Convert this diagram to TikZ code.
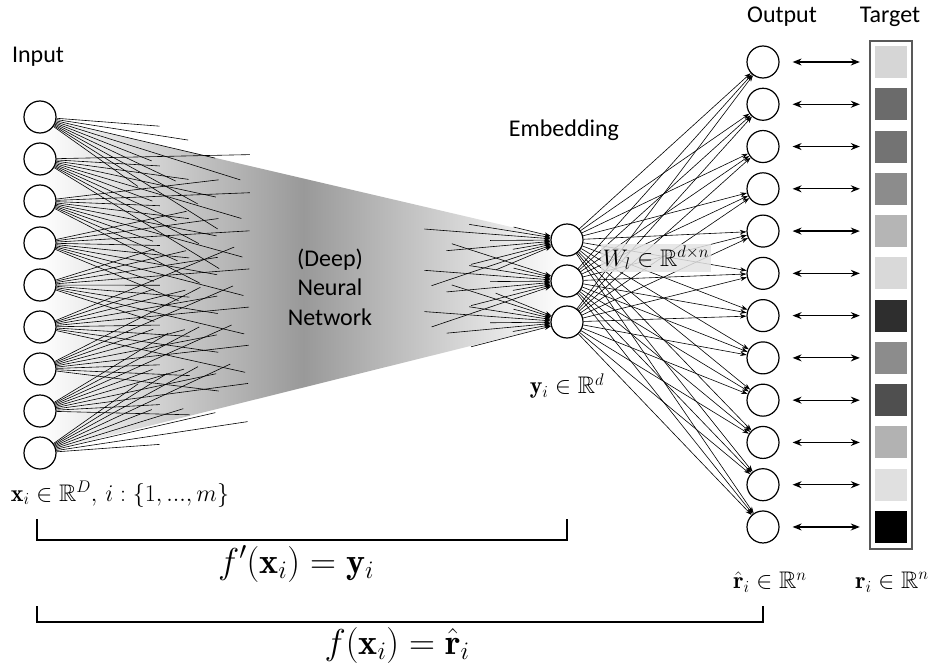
\documentclass[tikz,border=0pt]{standalone}
\usepackage{fix-cm}
\usepackage{amsmath,amssymb}
\usepackage{fontspec}
\newfontfamily\lblfont{Carlito}
\usetikzlibrary{arrows.meta,calc}
\begin{document}
\begin{tikzpicture}[x=1pt,y=-1pt,
  neuron/.style={circle,draw,line width=1.2pt,minimum size=32pt,inner sep=0pt,fill=white},
  conn/.style={line width=0.6pt},
  arr/.style={line width=0.6pt,-{Stealth[length=6.5pt,width=4.5pt]}},
  lbl/.style={font=\lblfont\fontsize{24}{29.5}\selectfont},
  mlbl/.style={font=\fontsize{24}{29}\selectfont},
  bigm/.style={font=\fontsize{36}{40}\selectfont},
  bracketline/.style={line width=1.4pt},
  dbl/.style={line width=1.2pt,{Stealth[length=9pt,width=7pt]}-{Stealth[length=9pt,width=7pt]}},
  tgtbox/.style={rectangle,minimum width=32pt,minimum height=32pt,inner sep=0pt}
]
\useasboundingbox (0,0) rectangle (928,666);

% coordinates of layers
\foreach \i in {1,...,9}{
  \pgfmathsetmacro\yy{117+42*(\i-1)}
  \pgfmathsetmacro\hy{150+34*(\i-1)}
  \coordinate (inc\i) at (40,\yy);
  \coordinate (h\i) at (470,\hy);
  \coordinate (p\i) at (60,\yy);
}
\coordinate (e1c) at (567,240);
\coordinate (e3c) at (567,322);

% shaded network body
\shade[left color=white,right color=white,middle color=black!40]
  (inc1) -- (e1c) -- (e3c) -- (inc9) -- cycle;

% nodes
\foreach \i in {1,...,9}{
  \node[neuron] (in\i) at (inc\i) {};
}
\foreach \e/\yy in {1/240,2/281,3/322}{
  \node[neuron] (emb\e) at (567,\yy) {};
}
\foreach \o/\g in {1/0.84,2/0.42,3/0.45,4/0.55,5/0.71,6/0.85,7/0.18,8/0.55,9/0.31,10/0.70,11/0.88,12/0.0}{
  \pgfmathsetmacro\yy{62+42.27*(\o-1)}
  \node[neuron] (out\o) at (763,\yy) {};
  \definecolor{tc}{gray}{\g}
  \node[tgtbox,fill=tc] (tgt\o) at (891,\yy) {};
}
\node[draw=black!65,line width=1.3pt,minimum width=42pt,minimum height=508pt,inner sep=0pt] (frame) at (891,295) {};

% truncated connections from input layer
\foreach \i in {1,...,9}{
  \foreach \j in {1,...,9}{
    \pgfmathsetlengthmacro\L{(120+30*mod(3*\i+5*\j,4))*1pt}
    \draw[conn] (in\i) -- ($(in\i.center)!\L!(h\j)$);
  }
}
% truncated connections into embedding layer
\foreach \e in {1,2,3}{
  \foreach \k in {1,...,9}{
    \pgfmathsetlengthmacro\S{(55+22*mod(2*\k+3*\e,5))*1pt}
    \draw[arr] ($(emb\e.center)!\S!(p\k)$) -- (emb\e);
  }
}
% embedding to output
\foreach \e in {1,2,3}{
  \foreach \o in {1,...,12}{
    \draw[arr] (emb\e) -- (out\o);
  }
}
% output <-> target
\foreach \o in {1,...,12}{
  \draw[dbl,shorten <=13pt,shorten >=15pt] (out\o) -- (tgt\o);
}

% weight label
\node[mlbl,fill=gray!22,fill opacity=0.85,text opacity=1,inner sep=2pt] (wl) at (656,258) {$W_l\in\mathbb{R}^{d\times n}$};

% text labels
\node[lbl] (lin) at (38,57) {Input};
\node[lbl] (lemb) at (564,130) {Embedding};
\node[lbl] (lout) at (782,17) {Output};
\node[lbl] (ltgt) at (890,17) {Target};
\node[lbl,align=center] (dnn) at (330,287) {(Deep)\\Neural\\Network};

\node[mlbl] (xl) at (120,494) {$\mathbf{x}_i\in\mathbb{R}^D,\, i:\{1,...,m\}$};
\node[mlbl] (yl) at (567,386) {$\mathbf{y}_i\in\mathbb{R}^d$};
\node[mlbl] (rhl) at (770,582) {$\hat{\mathbf{r}}_i\in\mathbb{R}^n$};
\node[mlbl] (rl) at (892,582) {$\mathbf{r}_i\in\mathbb{R}^n$};

% brackets
\coordinate (b1a) at (37,519);
\coordinate (b1b) at (37,540);
\coordinate (b1c) at (567,540);
\coordinate (b1d) at (567,519);
\draw[bracketline] (b1a) -- (b1b) -- (b1c) -- (b1d);
\coordinate (b2a) at (37,606);
\coordinate (b2b) at (37,622);
\coordinate (b2c) at (763,622);
\coordinate (b2d) at (763,606);
\draw[bracketline] (b2a) -- (b2b) -- (b2c) -- (b2d);

\node[bigm] (fp) at (296,564) {$f'(\mathbf{x}_i)=\mathbf{y}_i$};
\node[bigm] (ff) at (397,645) {$f(\mathbf{x}_i)=\hat{\mathbf{r}}_i$};
\end{tikzpicture}
\end{document}
